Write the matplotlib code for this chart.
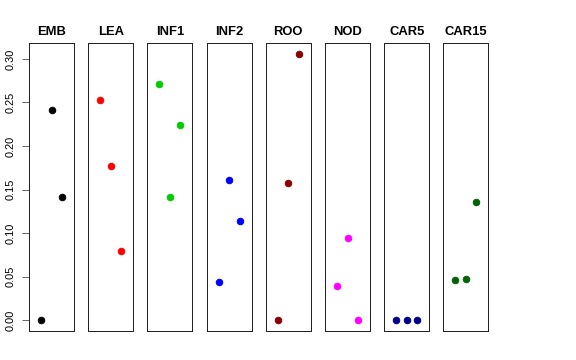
import matplotlib
matplotlib.use("Agg")
import matplotlib.pyplot as plt

plt.rcParams['font.family'] = ['Liberation Sans', 'DejaVu Sans']

# tissues and their three values
tissues = ["EMB", "LEA", "INF1", "INF2", "ROO", "NOD", "CAR5", "CAR15"]
emb = [0.0, 0.241, 0.142]
lea = [0.253, 0.177, 0.079]
inf1 = [0.271, 0.142, 0.224]
inf2 = [0.044, 0.161, 0.114]
roo = [0.0, 0.158, 0.306]
nod = [0.039, 0.095, 0.0]
car5 = [0.0, 0.0, 0.0]
car15 = [0.046, 0.048, 0.136]
values = [emb, lea, inf1, inf2, roo, nod, car5, car15]
colors = ["black", "red", "#00CD00", "blue", "#8B0000", "magenta", "#00008B", "#006400"]
yticks = [0.00, 0.05, 0.10, 0.15, 0.20, 0.25, 0.30]

W, H = 576, 360
fig = plt.figure(figsize=(8, 5), dpi=72)

left0 = 29
step = 59.2
pw = 45
bottom = 360 - 331
ph = 288
ymax = max(max(v) for v in values)
pad = ymax * 0.04

for i, (name, vals, col) in enumerate(zip(tissues, values, colors)):
    ax = fig.add_axes([(left0 + i * step) / W, bottom / H, pw / W, ph / H])
    ax.plot([1, 2, 3], vals, 'o', color=col, ms=6.5, mec=col)
    ax.set_xlim(0 - 0.16, 4 + 0.16)
    ax.set_ylim(-pad, ymax + pad)
    ax.set_xticks([])
    ax.set_title(name, fontsize=13, fontweight='bold', pad=8)
    for s in ax.spines.values():
        s.set_linewidth(1)
        s.set_color("#222222")
    if i == 0:
        ax.set_yticks(yticks)
        ax.set_yticklabels(["%.2f" % t for t in yticks], fontsize=11)
        ax.tick_params(axis='y', length=7, width=0.8, labelrotation=90, pad=6,
                       color="#444444")
        for lab in ax.get_yticklabels():
            lab.set_va('center')
    else:
        ax.set_yticks([])

fig.savefig("out.png", dpi=72)
plt.close(fig)
